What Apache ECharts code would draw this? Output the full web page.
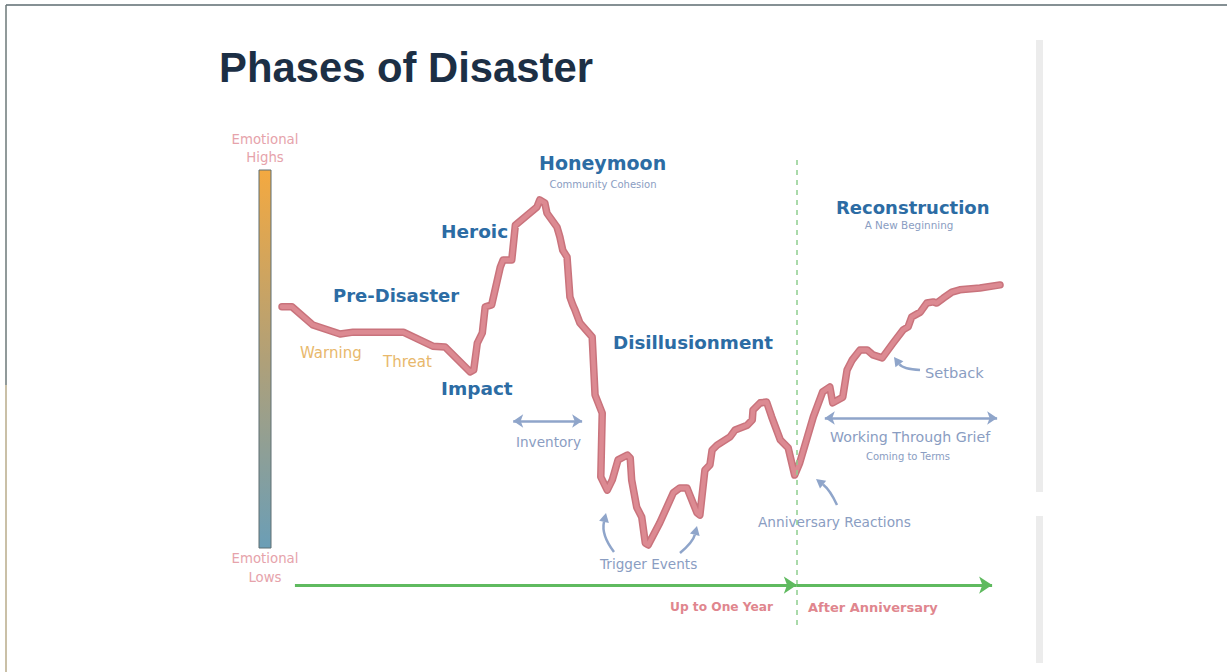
<!DOCTYPE html>
<html><head><meta charset="utf-8">
<script src="https://cdn.jsdelivr.net/npm/echarts@6/dist/echarts.min.js"></script>
<style>html,body{margin:0;padding:0;background:#fff}#c{width:1227px;height:672px}</style>
</head><body><div id="c"></div>
<script>
// Time axis: 0 = start of curve, 100 = end of curve (arbitrary units)
const time = [0,1.4,4.3,8.1,9.9,16.9,21.0,22.7,26.2,26.7,27.2,27.9,28.3,29.2,30.4,30.8,32.0,32.5,35.5,35.9,
  36.6,36.9,38.3,38.7,39.1,39.7,40.1,40.5,40.8,41.5,43.2,43.6,44.6,44.4,45.3,46.0,46.8,48.1,48.5,48.7,
  49.4,50.1,50.6,51.0,52.6,54.5,55.4,56.4,57.8,58.2,58.9,59.6,59.9,60.6,62.4,63.1,64.8,65.5,65.6,66.6,
  67.5,68.2,69.4,70.5,71.4,72.1,74.0,75.3,76.3,76.7,78.1,78.7,79.4,80.5,81.5,82.3,83.6,85.1,86.5,87.2,
  87.7,88.9,89.8,90.7,91.2,92.1,93.3,94.4,97.2,100];
// Emotion axis: 0 = emotional lows, 100 = emotional highs
const emotion = [63.8,63.8,59.0,56.6,57.1,57.1,53.4,53.2,46.6,47.1,54.2,56.9,63.8,64.3,74.3,76.2,76.2,85.4,90.2,92.1,
  91.3,88.6,84.9,82.3,78.8,77.0,66.4,64.3,63.0,59.5,55.8,40.5,35.7,18.8,15.3,18.0,23.3,24.6,23.8,18.0,
  10.8,8.2,1.3,0.8,6.6,14.6,15.9,15.9,9.3,8.7,20.6,22.0,25.9,27.2,29.4,31.2,32.5,33.9,36.5,38.4,
  38.6,34.7,28.6,26.5,19.3,22.5,34.7,41.3,42.6,38.4,39.9,47.1,49.7,52.4,52.4,51.1,50.3,54.2,57.7,58.5,
  61.1,62.4,64.8,65.1,64.8,66.1,67.7,68.3,68.8,69.6];
const anniversaryTime = 71.7;
const timelineStart = 1.8, timelineEnd = 98.9, timelineLevel = -9.8;
const dividerRange = [-20.4, 104];
const inventorySpan = [32.2, 41.8], inventoryLevel = 33.6;
const griefSpan = [75.6, 99.6], griefLevel = 34.4;

const curve = time.map((t, i) => [t, emotion[i]]);

// layout mapping (emotion 100 -> y 170px, 0 -> 548px; time 0 -> x 282px, 100 -> x 1000px)
const yMin = -22, yMax = 110, ySc = 3.78;
const xMin = -5, xMax = 105, xSc = 7.18;
const gridTop = 170 - (yMax - 100) * ySc, gridH = (yMax - yMin) * ySc;
const gridLeft = 282 - (0 - xMin) * xSc, gridW = (xMax - xMin) * xSc;

const chart = echarts.init(document.getElementById('c'), null, {renderer: 'svg'});

const BLUE = '#2c6ca4', GREYBLUE = '#8a9dc2', ORANGE = '#e8b86c', PINK = '#e6a3ab', ARROW = '#8fa5ca';
const LF = '"DejaVu Sans", sans-serif';
function txt(text, x, y, size, color, weight, align) {
  return {type: 'text', silent: true, style: {text, x, y, fill: color,
    font: (weight || 'normal') + ' ' + size + 'px ' + LF, align: align || 'left', verticalAlign: 'middle'}};
}
function curvedArrow(x1, y1, cx, cy, x2, y2) {
  const ang = Math.atan2(y2 - cy, x2 - cx), L = 9, W = 5;
  const bx = x2 - L * Math.cos(ang), by = y2 - L * Math.sin(ang);
  const px = -Math.sin(ang) * W, py = Math.cos(ang) * W;
  return [
    {type: 'bezierCurve', silent: true, shape: {x1, y1, x2: bx, y2: by, cpx1: cx, cpy1: cy},
      style: {stroke: ARROW, lineWidth: 2.5, fill: null}},
    {type: 'polygon', silent: true, shape: {points: [[x2, y2], [bx + px, by + py], [bx - px, by - py]]},
      style: {fill: ARROW}}
  ];
}

const graphics = [
  {type: 'line', silent: true, shape: {x1: 6, y1: 5, x2: 1227, y2: 5}, style: {stroke: '#5d6b70', lineWidth: 1.5}},
  {type: 'line', silent: true, shape: {x1: 6, y1: 5, x2: 6, y2: 385}, style: {stroke: '#6c7878', lineWidth: 1.5}},
  {type: 'line', silent: true, shape: {x1: 6, y1: 385, x2: 6, y2: 672}, style: {stroke: '#b9ab8a', lineWidth: 1.5}},
  {type: 'rect', silent: true, shape: {x: 1036, y: 40, width: 7, height: 452}, style: {fill: '#ececec'}},
  {type: 'rect', silent: true, shape: {x: 1036, y: 516, width: 7, height: 147}, style: {fill: '#ececec'}},
  {type: 'rect', silent: true, shape: {x: 259, y: 170, width: 12, height: 378},
    style: {stroke: '#5f6e72', lineWidth: 1,
      fill: new echarts.graphic.LinearGradient(0, 0, 0, 1, [
        {offset: 0, color: '#f4a940'}, {offset: 0.5, color: '#b0a078'}, {offset: 1, color: '#6b9eb6'}])}},
  {type: 'text', silent: true, style: {text: 'Phases of Disaster', x: 219, y: 67, fill: '#1c2f45',
    font: 'bold 41.8px "Liberation Sans", Arial, sans-serif', align: 'left', verticalAlign: 'middle'}},
  txt('Emotional', 265, 139, 13.3, PINK, 'normal', 'center'),
  txt('Highs', 265, 157, 13.3, PINK, 'normal', 'center'),
  txt('Emotional', 265, 558, 13.3, PINK, 'normal', 'center'),
  txt('Lows', 265, 577, 13.3, PINK, 'normal', 'center'),
  txt('Pre-Disaster', 333, 295, 18, BLUE, 'bold'),
  txt('Warning', 300, 353, 15, ORANGE),
  txt('Threat', 383, 362, 15, ORANGE),
  txt('Impact', 441, 388, 18.5, BLUE, 'bold'),
  txt('Heroic', 441, 231, 18.5, BLUE, 'bold'),
  txt('Honeymoon', 539, 163, 19, BLUE, 'bold'),
  txt('Community Cohesion', 603, 184, 10, GREYBLUE, 'normal', 'center'),
  txt('Disillusionment', 613, 342, 18.3, BLUE, 'bold'),
  txt('Reconstruction', 836, 207, 18, BLUE, 'bold'),
  txt('A New Beginning', 909, 225, 10.4, GREYBLUE, 'normal', 'center'),
  txt('Inventory', 516, 442, 13.6, GREYBLUE),
  txt('Trigger Events', 600, 564, 13.6, GREYBLUE),
  txt('Anniversary Reactions', 758, 522, 13.7, GREYBLUE),
  txt('Working Through Grief', 830, 437, 14.2, GREYBLUE),
  txt('Coming to Terms', 908, 456, 10, GREYBLUE, 'normal', 'center'),
  txt('Setback', 925, 372, 14.6, GREYBLUE),
  txt('Up to One Year', 670, 607, 12.2, '#e0868e', 'bold'),
  txt('After Anniversary', 808, 607, 13, '#e0868e', 'bold'),
  ...curvedArrow(614, 552, 601, 535, 606, 513),
  ...curvedArrow(680, 553, 693, 542, 697, 526),
  ...curvedArrow(837, 505, 830, 490, 816, 479),
  ...curvedArrow(920, 370, 903, 369, 894, 357)
];

chart.setOption({
  animation: false,
  grid: {left: gridLeft, top: gridTop, width: gridW, height: gridH},
  xAxis: {type: 'value', min: xMin, max: xMax, show: false},
  yAxis: {type: 'value', min: yMin, max: yMax, show: false},
  series: [
    {type: 'line', data: curve, symbol: 'none', silent: true, clip: false,
      lineStyle: {color: '#c9737c', width: 7.5, join: 'round', cap: 'round'}, z: 2,
      markLine: {silent: true, symbol: ['none', 'none'], label: {show: false},
        lineStyle: {color: '#8fce8f', type: [5, 5], width: 1.5},
        data: [[{coord: [anniversaryTime, dividerRange[0]]}, {coord: [anniversaryTime, dividerRange[1]]}]]}},
    {type: 'line', data: curve, symbol: 'none', silent: true, clip: false,
      lineStyle: {color: '#dc8a92', width: 4.5, join: 'round', cap: 'round'}, z: 3,
      markLine: {silent: true, symbol: ['none', 'arrow'], symbolSize: [13, 13], label: {show: false},
        lineStyle: {color: '#5fba5f', type: 'solid', width: 3},
        data: [[{coord: [timelineStart, timelineLevel]}, {coord: [anniversaryTime, timelineLevel]}],
               [{coord: [anniversaryTime, timelineLevel]}, {coord: [timelineEnd, timelineLevel]}]]}},
    {type: 'line', data: [], silent: true,
      markLine: {silent: true, symbol: ['arrow', 'arrow'], symbolSize: [10, 10], label: {show: false},
        lineStyle: {color: ARROW, type: 'solid', width: 2.5},
        data: [[{coord: [inventorySpan[0], inventoryLevel]}, {coord: [inventorySpan[1], inventoryLevel]}],
               [{coord: [griefSpan[0], griefLevel]}, {coord: [griefSpan[1], griefLevel]}]]}}
  ],
  graphic: graphics
});
</script></body></html>
